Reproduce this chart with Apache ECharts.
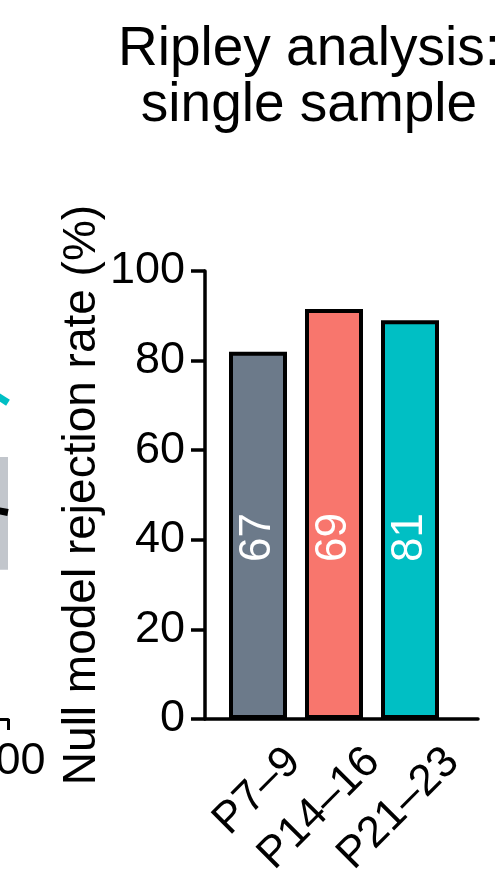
<!DOCTYPE html>
<html>
<head>
<meta charset="utf-8">
<script src="https://cdn.jsdelivr.net/npm/echarts@6/dist/echarts.min.js"></script>
<style>
  html, body { margin: 0; padding: 0; background: #fff; }
  #chart { width: 500px; height: 882px; }
</style>
</head>
<body>
<div id="chart"></div>
<script type="application/javascript">
// groups and their rejection rates (%)
const stages = ['P7–9', 'P14–16', 'P21–23'];
const rejectionRate = [82, 91.5, 89];
const sampleCounts = [67, 69, 81];
const stageColors = ['#6c7a8a', '#f8766d', '#00bfc4'];
const yTicks = { min: 0, max: 100, step: 20 };

// tail of the neighbouring panel that is cut by the left edge
const nbX = [96, 100];
const nbCyan = [72.3, 70.6];
const nbMean = [46.6, 46.1];
const nbLow = [33.3, 33.3];
const nbHigh = [58.5, 58.5];

const FONT = "'Liberation Sans', Arial, sans-serif";
const LABEL_LEVEL = 40.5;

const chart = echarts.init(document.getElementById('chart'));

function hiddenAxis(gridIndex, extra) {
  return Object.assign({
    gridIndex,
    axisLine: { show: false },
    axisTick: { show: false },
    axisLabel: { show: false },
    splitLine: { show: false }
  }, extra);
}

function grid(left, width) {
  return { left, width, top: 271, height: 448, outerBoundsMode: 'none', containLabel: false };
}

function nbLine(values, style, area) {
  return {
    type: 'line', xAxisIndex: 3, yAxisIndex: 3,
    symbol: 'none',
    lineStyle: style,
    areaStyle: area,
    data: nbX.map((x, i) => [x, values[i]])
  };
}

const option = {
  animation: false,
  backgroundColor: '#fff',
  textStyle: { fontFamily: FONT },
  title: {
    text: 'Ripley analysis:\nsingle sample',
    left: 304,
    top: 17,
    textAlign: 'center',
    textStyle: {
      fontFamily: FONT,
      fontSize: 55,
      fontWeight: 'normal',
      color: '#000',
      lineHeight: 56
    }
  },
  grid: [
    grid(205, 273),   // axes frame
    grid(220, 228),   // bars
    grid(254, 238),   // rotated labels
    grid(-292, 300)   // neighbour panel
  ],
  xAxis: [
    hiddenAxis(0, {
      type: 'value', min: 0, max: 1,
      axisLine: { show: true, lineStyle: { color: '#000', width: 3.5 } }
    }),
    hiddenAxis(1, { type: 'category', data: stages }),
    hiddenAxis(2, {
      type: 'category', data: stages,
      axisLabel: {
        show: true, rotate: 45, margin: 36, interval: 0,
        fontSize: 44, color: '#000', fontFamily: FONT
      }
    }),
    {
      gridIndex: 3, type: 'value', min: 0, max: 100, interval: 100,
      z: 5,
      axisLine: { lineStyle: { color: '#000', width: 3 } },
      axisTick: { length: 11, lineStyle: { color: '#000', width: 3 } },
      axisLabel: { fontSize: 45, color: '#000', margin: 20, fontFamily: FONT },
      splitLine: { show: false }
    }
  ],
  yAxis: [
    {
      gridIndex: 0, type: 'value',
      min: yTicks.min, max: yTicks.max, interval: yTicks.step,
      name: 'Null model rejection rate (%)',
      nameLocation: 'middle',
      nameGap: 100,
      nameMoveOverlap: false,
      nameTextStyle: { fontSize: 46, color: '#000', fontFamily: FONT },
      axisLine: { show: true, lineStyle: { color: '#000', width: 3.5 } },
      axisTick: { show: true, length: 14, lineStyle: { color: '#000', width: 3.5 } },
      axisLabel: { fontSize: 45, color: '#000', margin: 20, fontFamily: FONT },
      splitLine: { show: false }
    },
    hiddenAxis(1, { type: 'value', min: yTicks.min, max: yTicks.max }),
    hiddenAxis(2, { type: 'value', min: yTicks.min, max: yTicks.max }),
    hiddenAxis(3, { type: 'value', min: 0, max: 100 })
  ],
  series: [
    {
      type: 'bar',
      xAxisIndex: 1, yAxisIndex: 1,
      barWidth: 58,
      data: rejectionRate.map((v, i) => ({
        value: v,
        itemStyle: { color: stageColors[i], borderColor: '#000', borderWidth: 4 }
      })),
      z: 1
    },
    {
      type: 'scatter',
      xAxisIndex: 1, yAxisIndex: 1,
      symbolSize: 0,
      itemStyle: { opacity: 1 },
      data: sampleCounts.map((c, i) => [i, LABEL_LEVEL, c]),
      label: {
        show: true,
        position: 'inside',
        rotate: 90,
        formatter: p => String(p.value[2]),
        color: '#fff',
        opacity: 1,
        textBorderWidth: 0,
        fontSize: 44,
        fontFamily: FONT
      },
      z: 3
    },
    // band: grey fill down to the axis, then white fill below the lower edge
    nbLine(nbHigh, { opacity: 0 }, { color: '#c2c6cc', opacity: 1, origin: 'start' }),
    nbLine(nbLow, { opacity: 0 }, { color: '#fff', opacity: 1, origin: 'start' }),
    nbLine(nbMean, { color: '#000', width: 7 }),
    nbLine(nbCyan, { color: '#00bfc4', width: 7 })
  ]
};

chart.setOption(option);
</script>
</body>
</html>
